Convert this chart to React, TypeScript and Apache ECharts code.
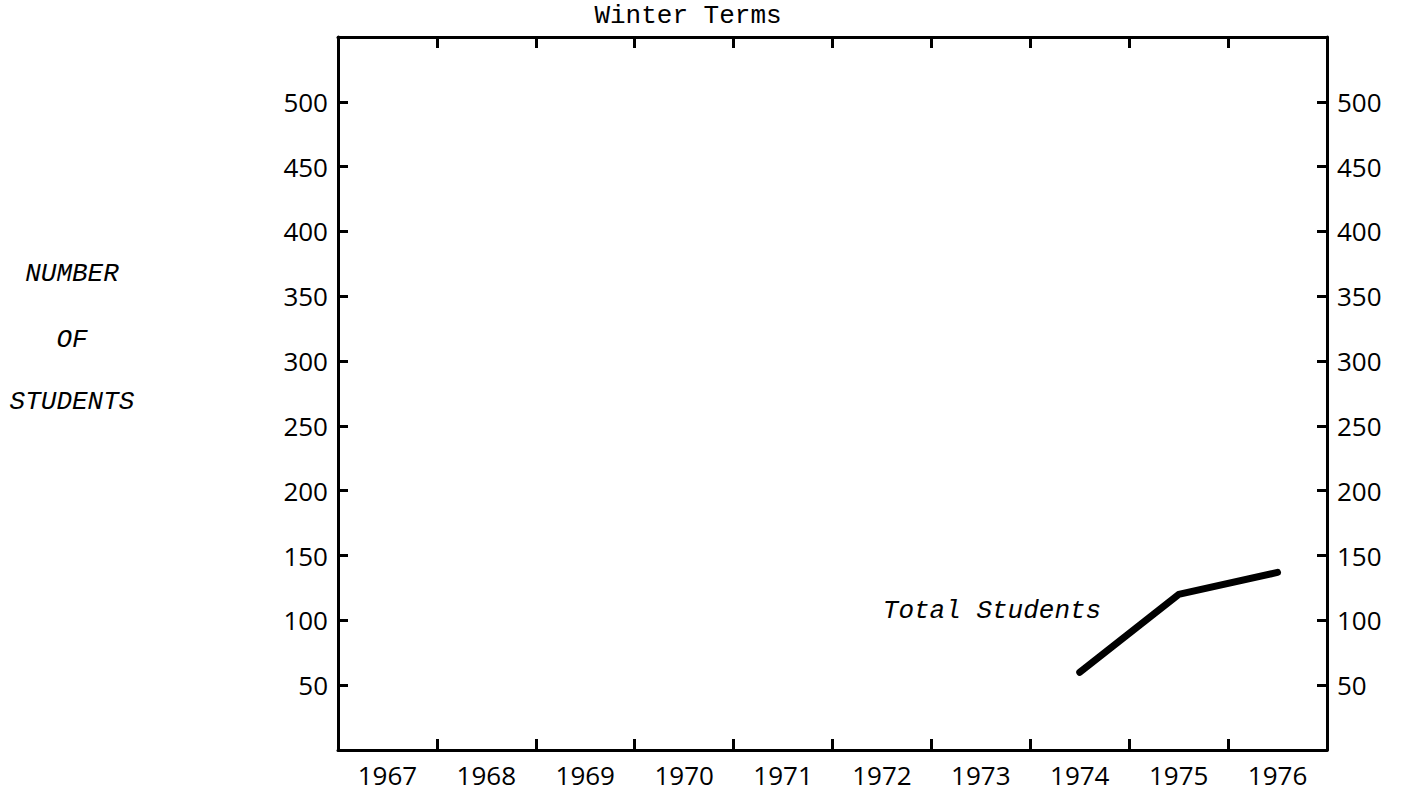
import React, { useEffect, useRef } from "react";
import * as echarts from "echarts";

const years = ["1967", "1968", "1969", "1970", "1971", "1972", "1973", "1974", "1975", "1976"];
const totalStudents: (number | null)[] = [null, null, null, null, null, null, null, 60, 120, 137];
const yMin = 0;
const yMax = 550;
const yStep = 50;
const titleText = "Winter Terms";
const seriesLabel = "Total Students";
const yTitleLines = ["NUMBER", "OF", "STUDENTS"];

const labelFont = "'Open Sans', 'DejaVu Sans', sans-serif";
const monoFont = "'Liberation Mono', 'DejaVu Sans Mono', monospace";

export default function App() {
  const ref = useRef<HTMLDivElement>(null);
  useEffect(() => {
    if (!ref.current) return;
    const chart = echarts.init(ref.current, null, { renderer: "svg" });
    const axisLine = () => ({ show: true, onZero: false, lineStyle: { color: "#000", width: 3 } });
    const axisTick = (len: number) => ({ show: true, inside: true, length: len, lineStyle: { color: "#000", width: 3 } });
    const yLabel = () => ({
      show: true,
      color: "#000",
      fontFamily: labelFont,
      fontSize: 26,
      margin: 10,
      showMinLabel: false,
      showMaxLabel: false,
      formatter: (v: number) => (v === yMin || v === yMax ? "" : String(v)),
    });
    const grid = { left: 338, top: 37, width: 989, height: 713 };
    chart.setOption({
      animation: false,
      backgroundColor: "#fff",
      grid,
      xAxis: [
        {
          type: "category",
          data: years,
          position: "bottom",
          boundaryGap: true,
          axisLine: axisLine(),
          axisTick: axisTick(11),
          axisLabel: { color: "#000", fontFamily: labelFont, fontSize: 26, margin: 12, interval: 0 },
          splitLine: { show: false },
        },
        {
          type: "category",
          data: years,
          position: "top",
          boundaryGap: true,
          axisLine: axisLine(),
          axisTick: axisTick(11),
          axisLabel: { show: false },
          splitLine: { show: false },
        },
      ],
      yAxis: [
        {
          type: "value",
          min: yMin,
          max: yMax,
          interval: yStep,
          position: "left",
          axisLine: axisLine(),
          axisTick: axisTick(10),
          axisLabel: yLabel(),
          splitLine: { show: false },
        },
        {
          type: "value",
          min: yMin,
          max: yMax,
          interval: yStep,
          position: "right",
          axisLine: axisLine(),
          axisTick: axisTick(10),
          axisLabel: yLabel(),
          splitLine: { show: false },
        },
      ],
      series: [
        {
          name: seriesLabel,
          type: "line",
          data: totalStudents,
          xAxisIndex: 0,
          yAxisIndex: 0,
          symbol: "none",
          connectNulls: false,
          lineStyle: { color: "#000", width: 7, cap: "round", join: "round" },
        },
      ],
      graphic: [
        {
          type: "text",
          x: 688,
          y: 16,
          style: {
            text: titleText,
            fill: "#000",
            font: `26px ${monoFont}`,
            textAlign: "center",
            textVerticalAlign: "middle",
          },
        },
        {
          type: "text",
          x: 992,
          y: 611,
          style: {
            text: seriesLabel,
            fill: "#000",
            font: `italic 26px ${monoFont}`,
            textAlign: "center",
            textVerticalAlign: "middle",
          },
        },
        ...yTitleLines.map((t, i) => ({
          type: "text",
          x: 72,
          y: [274, 340, 402][i],
          style: {
            text: t,
            fill: "#000",
            font: `italic 26px ${monoFont}`,
            textAlign: "center",
            textVerticalAlign: "middle",
          },
        })),
      ],
    });
    return () => chart.dispose();
  }, []);
  return (
    <div
      ref={ref}
      style={{ position: "fixed", left: 0, top: 0, width: 1405, height: 795, background: "#fff" }}
    />
  );
}
